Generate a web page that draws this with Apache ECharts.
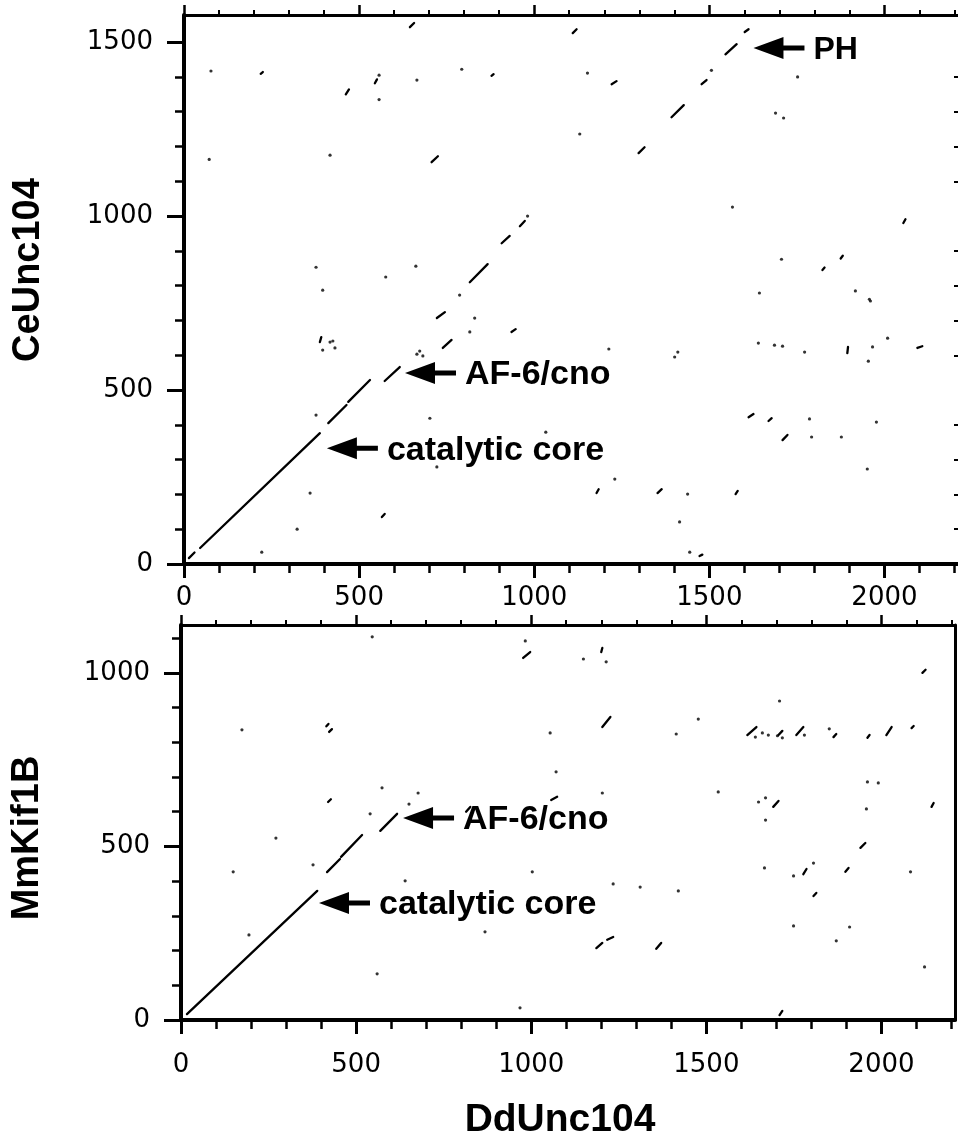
<!DOCTYPE html>
<html>
<head>
<meta charset="utf-8">
<title>Dot plot DdUnc104</title>
<script src="https://cdn.jsdelivr.net/npm/echarts@6/dist/echarts.min.js"></script>
<style>
  html, body { margin: 0; padding: 0; background: #fff; }
  #chart { width: 958px; height: 1143px; }
</style>
</head>
<body>
<div id="chart"></div>
<script>
// sequence lengths (axis extents)
const X_MAX = 2210;       // DdUnc104
const TOP_Y_MAX = 1578;   // CeUnc104
const BOT_Y_MAX = 1138;   // MmKif1B

// tick positions
const xMajor = [0, 500, 1000, 1500, 2000];
const xMinor = [100, 200, 300, 400, 600, 700, 800, 900, 1100, 1200, 1300, 1400, 1600, 1700, 1800, 1900, 2100, 2200];
const topYMajor = [0, 500, 1000, 1500];
const topYMinor = [100, 200, 300, 400, 600, 700, 800, 900, 1100, 1200, 1300, 1400];
const botYMajor = [0, 500, 1000];
const botYMinor = [100, 200, 300, 400, 600, 700, 800, 900, 1100];

// top panel: DdUnc104 vs CeUnc104, segments [x1, y1, x2, y2]
const topSegs = [
  [14, 17, 30, 33], [46, 46, 388, 376], [412, 405, 464, 457], [469, 466, 531, 529],
  [573, 526, 616, 566], [722, 707, 745, 724], [739, 621, 764, 644], [816, 810, 867, 862],
  [907, 922, 930, 943], [959, 971, 973, 986], [1298, 1181, 1315, 1198], [1392, 1284, 1427, 1319],
  [1478, 1379, 1492, 1391], [1546, 1465, 1578, 1494], [1601, 1529, 1612, 1537],
  [645, 1543, 657, 1555], [462, 1350, 471, 1364], [545, 1382, 551, 1393], [707, 1155, 725, 1172],
  [1110, 1526, 1121, 1537], [1221, 1379, 1235, 1388], [2054, 980, 2060, 991], [935, 667, 947, 675],
  [2094, 621, 2108, 626], [1612, 422, 1626, 431], [1669, 411, 1678, 419], [1709, 356, 1723, 371],
  [1178, 204, 1184, 215], [1352, 204, 1364, 215], [1575, 201, 1581, 210], [1472, 23, 1480, 27],
  [565, 135, 573, 144], [388, 638, 392, 652], [1894, 606, 1896, 624], [1823, 845, 1829, 852],
  [1875, 878, 1881, 886], [219, 1409, 225, 1414], [878, 1403, 884, 1408]
];
// top panel: single dots [x, y]
const topDots = [
  [77, 1417], [557, 1405], [557, 1335], [665, 1391], [793, 1422], [72, 1163], [417, 1175],
  [377, 853], [662, 856], [576, 825], [396, 787], [787, 773], [1506, 1419], [1152, 1411],
  [1752, 1400], [1689, 1296], [1712, 1282], [1130, 1236], [1566, 1026], [981, 1000], [1706, 876],
  [1643, 779], [1917, 785], [1957, 761], [816, 667], [830, 707], [417, 638], [425, 641],
  [431, 621], [396, 615], [665, 603], [673, 612], [682, 598], [377, 428], [702, 419], [722, 279],
  [360, 204], [323, 100], [222, 34], [1213, 618], [1401, 595], [1410, 609], [1640, 635],
  [1686, 629], [1709, 626], [1772, 609], [1966, 624], [1954, 583], [2009, 649], [1960, 756],
  [1786, 417], [1792, 365], [1877, 365], [1977, 408], [1033, 379], [1951, 273], [1230, 244],
  [1438, 201], [1415, 121], [1444, 34]
];
// top panel: arrows [x, y, label] (arrow tip in data units)
const topNotes = [
  [1626, 1483, 'PH'],
  [631, 549, 'AF-6/cno'],
  [408, 333, 'catalytic core']
];

// bottom panel: DdUnc104 vs MmKif1B
const botSegs = [
  [17, 17, 389, 372], [417, 426, 454, 464], [457, 470, 517, 533], [569, 545, 617, 594],
  [415, 846, 421, 853], [423, 830, 431, 838], [420, 628, 428, 636], [977, 1043, 997, 1060],
  [1200, 1060, 1203, 1072], [1203, 844, 1226, 873], [1057, 634, 1074, 643], [814, 600, 826, 614],
  [2117, 1000, 2126, 1009], [1617, 821, 1643, 844], [1706, 821, 1717, 833], [1757, 821, 1777, 844],
  [1863, 815, 1871, 824], [1960, 813, 1966, 821], [2014, 821, 2029, 844], [2086, 841, 2092, 847],
  [1691, 614, 1706, 631], [2143, 614, 2149, 625], [1940, 496, 1954, 510], [1777, 420, 1786, 435],
  [1897, 427, 1906, 438], [1806, 357, 1814, 366], [1186, 207, 1203, 222], [1217, 231, 1234, 239],
  [1357, 205, 1371, 222], [1709, 14, 1717, 26]
];
const botDots = [
  [546, 1104], [983, 1092], [1214, 1032], [1149, 1040], [174, 836], [574, 669], [677, 654],
  [651, 622], [540, 594], [271, 524], [377, 447], [149, 427], [640, 401], [194, 245], [560, 133],
  [1054, 827], [1071, 715], [1203, 654], [1003, 427], [1709, 919], [1477, 867], [1414, 824],
  [1640, 815], [1660, 827], [1677, 821], [1703, 819], [1717, 813], [1780, 821], [1851, 839],
  [1534, 657], [1960, 686], [1991, 683], [1649, 628], [1669, 640], [1669, 576], [1957, 608],
  [1806, 452], [2083, 427], [1666, 438], [1749, 415], [1234, 392], [1311, 383], [1420, 372],
  [1749, 271], [1909, 268], [1871, 228], [2123, 153], [968, 35], [868, 254]
];
const botNotes = [
  [634, 582, 'AF-6/cno'],
  [394, 337, 'catalytic core']
];

const TICK_FONT = '"DejaVu Sans", sans-serif';
const BOLD_FONT = '"Liberation Sans", Arial, sans-serif';
const tickStyle = w => ({ color: '#000', width: w });
const plain = v => String(v);

// four x axes per grid: labelled bottom, minor bottom, top frame, minor top
function makeXAxes(g, labelMargin) {
  const base = { gridIndex: g, type: 'value', min: 0, max: X_MAX, splitLine: { show: false } };
  return [
    Object.assign({}, base, {
      position: 'bottom', interval: 500,
      axisLine: { onZero: false, lineStyle: tickStyle(4) },
      axisTick: { length: 14, customValues: xMajor, lineStyle: tickStyle(3) },
      axisLabel: { customValues: xMajor, formatter: plain, margin: labelMargin, color: '#000', fontFamily: TICK_FONT, fontSize: 26 }
    }),
    Object.assign({}, base, {
      position: 'bottom', interval: 100,
      axisLine: { show: false, onZero: false },
      axisTick: { length: 9, customValues: xMinor, lineStyle: tickStyle(2.5) },
      axisLabel: { show: false }
    }),
    Object.assign({}, base, {
      position: 'top', interval: 500,
      axisLine: { onZero: false, lineStyle: tickStyle(3) },
      axisTick: { length: 10, customValues: xMajor, lineStyle: tickStyle(2.5) },
      axisLabel: { show: false }
    }),
    Object.assign({}, base, {
      position: 'top', interval: 100,
      axisLine: { show: false, onZero: false },
      axisTick: { length: 5, customValues: xMinor, lineStyle: tickStyle(2) },
      axisLabel: { show: false }
    })
  ];
}

// left labelled, left minor, right frame (top panel's right border lies just off the picture)
function makeYAxes(g, yMax, major, minor, padTop, rightVisible) {
  const base = { gridIndex: g, type: 'value', min: 0, max: yMax, splitLine: { show: false } };
  return [
    Object.assign({}, base, {
      position: 'left', interval: 500,
      axisLine: { onZero: false, lineStyle: tickStyle(4) },
      axisTick: { length: 17, customValues: major, lineStyle: tickStyle(3) },
      axisLabel: { customValues: major, formatter: plain, margin: 31, color: '#000', fontFamily: TICK_FONT, fontSize: 26, padding: [padTop, 0, 0, 0] }
    }),
    Object.assign({}, base, {
      position: 'left', interval: 100,
      axisLine: { show: false, onZero: false },
      axisTick: { length: 9, customValues: minor, lineStyle: tickStyle(2.5) },
      axisLabel: { show: false }
    }),
    Object.assign({}, base, {
      position: 'right', interval: 100,
      axisLine: { show: rightVisible, onZero: false, lineStyle: tickStyle(3) },
      axisTick: { show: !rightVisible, inside: true, length: 4, customValues: minor, lineStyle: tickStyle(2) },
      axisLabel: { show: false }
    })
  ];
}

function segSeries(data, xi, yi) {
  return {
    type: 'custom', xAxisIndex: xi, yAxisIndex: yi, clip: true,
    encode: { x: [0, 2], y: [1, 3] },
    data: data,
    renderItem: (params, api) => {
      const a = api.coord([api.value(0), api.value(1)]);
      const b = api.coord([api.value(2), api.value(3)]);
      return { type: 'line', shape: { x1: a[0], y1: a[1], x2: b[0], y2: b[1] },
        style: { stroke: '#000', lineWidth: 2.3, lineCap: 'round' } };
    }
  };
}

function dotSeries(data, xi, yi) {
  return {
    type: 'scatter', xAxisIndex: xi, yAxisIndex: yi, symbol: 'circle', symbolSize: 3.2,
    itemStyle: { color: '#000' }, silent: true, data: data
  };
}

function noteSeries(notes, xi, yi) {
  return {
    type: 'custom', xAxisIndex: xi, yAxisIndex: yi, clip: false,
    data: notes.map(n => [n[0], n[1]]),
    renderItem: (params, api) => {
      const p = api.coord([api.value(0), api.value(1)]);
      const x = p[0], y = p[1];
      const label = notes[params.dataIndex][2];
      return {
        type: 'group',
        children: [
          { type: 'polygon',
            shape: { points: [[x, y], [x + 30, y - 11], [x + 30, y - 2.5], [x + 51, y - 2.5],
                              [x + 51, y + 2.5], [x + 30, y + 2.5], [x + 30, y + 11]] },
            style: { fill: '#000' } },
          { type: 'text',
            style: { text: label, x: x + 60, y: y + 2, align: 'left', verticalAlign: 'middle',
                     fontFamily: BOLD_FONT, fontWeight: 'bold', fontSize: label === 'PH' ? 32 : 34, fill: '#000' } }
        ]
      };
    }
  };
}

const chart = echarts.init(document.getElementById('chart'), null, { renderer: 'canvas' });

chart.setOption({
  backgroundColor: '#fff',
  animation: false,
  grid: [
    { left: 184, top: 15, width: 775, height: 549 },
    { left: 181, top: 625, width: 774, height: 395 }
  ],
  xAxis: makeXAxes(0, 21).concat(makeXAxes(1, 32)),
  yAxis: makeYAxes(0, TOP_Y_MAX, topYMajor, topYMinor, 14, false)
    .concat(makeYAxes(1, BOT_Y_MAX, botYMajor, botYMinor, 10, true)),
  graphic: [
    { type: 'text', x: 29, y: 270, rotation: Math.PI / 2,
      style: { text: 'CeUnc104', x: 0, y: 0, align: 'center', verticalAlign: 'middle',
               fontFamily: BOLD_FONT, fontWeight: 'bold', fontSize: 38, fill: '#000' } },
    { type: 'text', x: 28, y: 838, rotation: Math.PI / 2,
      style: { text: 'MmKif1B', x: 0, y: 0, align: 'center', verticalAlign: 'middle',
               fontFamily: BOLD_FONT, fontWeight: 'bold', fontSize: 38, fill: '#000' } },
    { type: 'text', x: 560, y: 1120,
      style: { text: 'DdUnc104', x: 0, y: 0, align: 'center', verticalAlign: 'middle',
               fontFamily: BOLD_FONT, fontWeight: 'bold', fontSize: 39, fill: '#000' } }
  ],
  series: [
    segSeries(topSegs, 0, 0),
    dotSeries(topDots, 0, 0),
    noteSeries(topNotes, 0, 0),
    segSeries(botSegs, 4, 3),
    dotSeries(botDots, 4, 3),
    noteSeries(botNotes, 4, 3)
  ]
});
</script>
</body>
</html>
